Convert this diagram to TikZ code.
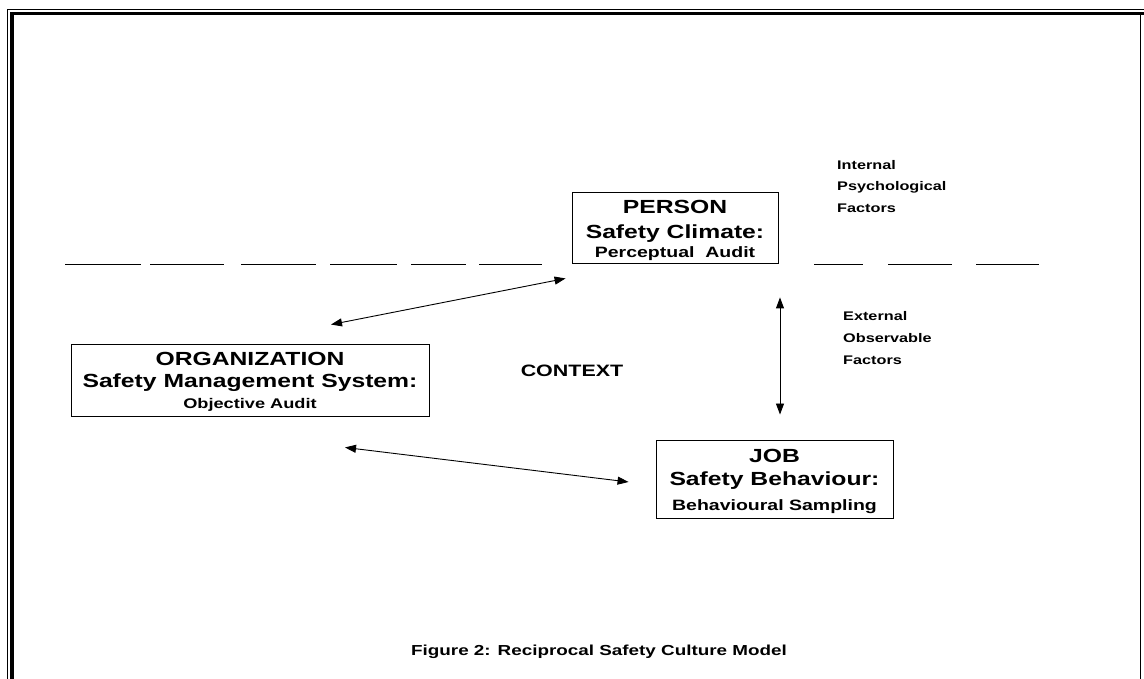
\documentclass[tikz,border=0pt]{standalone}
\usepackage{fontspec}
\setmainfont{Liberation Sans}[FakeStretch=1.3]
\usetikzlibrary{arrows.meta,calc}

\tikzset{
  box/.style={draw, line width=0.9pt, inner sep=0pt, align=center, text depth=0pt},
  link/.style={line width=0.9pt, {Triangle[length=11pt,width=8pt]}-{Triangle[length=11pt,width=8pt]}},
  note/.style={inner sep=0pt, align=left, anchor=north west, font=\bfseries\fontsize{12.5}{21.7}\selectfont},
}

\begin{document}
\begin{tikzpicture}[x=1pt, y=1pt]
  \useasboundingbox (0,0) rectangle (1144,679);
  % frame
  \draw[line width=1pt] (7.5,0) -- (7.5,669) -- (1144,669);
  \draw[line width=3.5pt] (12,0) -- (12,665.5) -- (1144,665.5);
  \draw[line width=1.3pt] (1140.5,0) -- (1140.5,664);

  % the three boxes
  \node[box, minimum width=206pt, minimum height=71pt, text height=60pt, font=\bfseries\fontsize{19}{25}\selectfont] (person) at (675,451.5)
    {PERSON\\Safety Climate:\\[-6.3pt]{\fontsize{15}{18}\selectfont Perceptual~~Audit}};
  \node[box, minimum width=358pt, minimum height=72pt, text height=56.6pt, font=\bfseries\fontsize{19}{22}\selectfont] (org) at (250,299)
    {ORGANIZATION\\Safety Management System:\\[-1.4pt]{\fontsize{14}{17}\selectfont Objective Audit}};
  \node[box, minimum width=237pt, minimum height=78pt, text height=64pt, font=\bfseries\fontsize{19}{23.7}\selectfont] (job) at (774.5,200)
    {JOB\\Safety Behaviour:\\[1.3pt]{\fontsize{15}{18}\selectfont Behavioural Sampling}};

  \node[anchor=base, inner sep=0pt, font=\bfseries\fontsize{16.5}{20}\selectfont] (context) at (572,302) {CONTEXT};
  \node[note] (internal) at (837,519) {Internal\\Psychological\\Factors};
  \node[note] (external) at (843,367.3) {External\\Observable\\Factors};
  \node[anchor=base, inner sep=0pt, font=\bfseries\fontsize{14.5}{18}\selectfont] (caption) at (599,23) {Figure 2: Reciprocal Safety Culture Model};

  % dashed boundary
  \foreach \a/\b in {65/141, 150/224, 241/316, 330/397, 411/466, 479/542, 814/863, 888/952, 976/1039}
    \draw[line width=1pt] (\a,414) -- (\b,414);

  % links
  \draw[link] ($(org.north)+(81,19)$) -- ($(person.south west)+(-6,-15)$);
  \draw[link] ($(org.south)+(95,-31)$) -- ($(job.west)+(-27,-3)$);
  \draw[link] ($(person.south)+(105,-34)$) -- ($(job.north)+(5.5,25)$);
\end{tikzpicture}
\end{document}
